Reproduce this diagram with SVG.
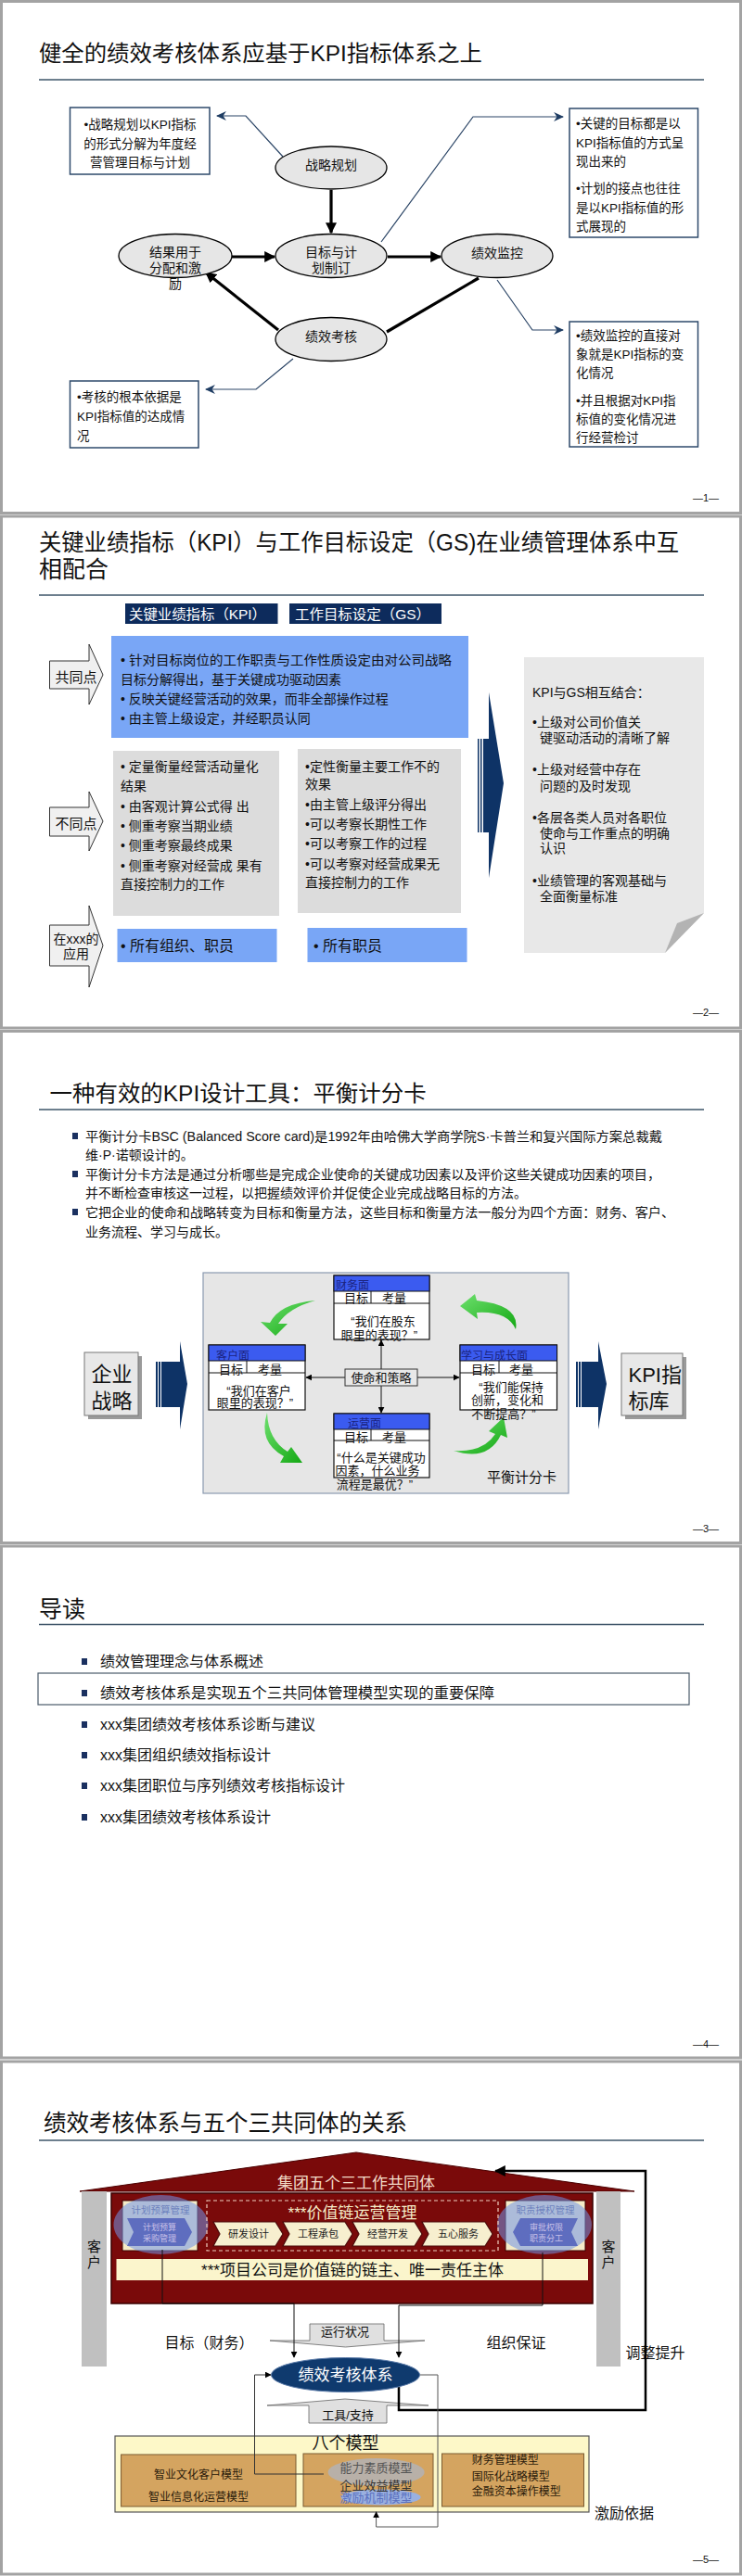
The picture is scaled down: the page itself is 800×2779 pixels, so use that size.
<svg xmlns="http://www.w3.org/2000/svg" width="800" height="2779" viewBox="0 0 800 2779">
<style>
text{font-family:"Liberation Sans","Noto Sans CJK SC",sans-serif;dominant-baseline:central;fill:#111}
.frame{fill:#fff;stroke:#a3a3a3;stroke-width:3}
.rule{stroke:#3d5468;stroke-width:1.5}
.pg{font-size:11px;text-anchor:middle}
.t1{font-size:24px}
.ell{fill:#e6e6e6;stroke:#000;stroke-width:1.3}
.et{font-size:14px;text-anchor:middle}
.thick{stroke:#000;stroke-width:3.2;fill:none}
.nav{stroke:#2b4566;stroke-width:1.2;fill:none}
.cbox{fill:#fff;stroke:#2e4a6b;stroke-width:1.5}
.ct{font-size:13.5px}
.tab{fill:#0d2b5c}
.tabt{font-size:15px;fill:#fff}
.lb{fill:#79a6f6}
.gb{fill:#dcdcdc}
.s14{font-size:14px}
.wa{fill:#f0f0f0;stroke:#333;stroke-width:1}
.navy{fill:#0e3366}
.card{fill:#fff;stroke:#111;stroke-width:1.2}
.hdr{fill:#3b5bf0;stroke:#111;stroke-width:1}
.c13{font-size:13px}
.hd{font-size:12px;fill:#1a237e}
.thin{stroke:#111;stroke-width:1;fill:none}
.grn{fill:url(#gg)}
.sq{fill:#1a3060}
.li{font-size:16px}
.chev{fill:#f7efcf;stroke:#4a0a0a;stroke-width:1.2}
.chT{font-size:11px;text-anchor:middle;fill:#222}
.mdl{fill:#d4a460;stroke:#7a5a30;stroke-width:1}
.m12{font-size:12px;fill:#2a1a0a}
</style>
<defs>
<marker id="ab" viewBox="0 0 10 10" refX="9" refY="5" markerWidth="12" markerHeight="12" markerUnits="userSpaceOnUse" orient="auto"><path d="M0,0 L10,5 L0,10 z" fill="#000"/></marker>
<marker id="an" viewBox="0 0 10 10" refX="9" refY="5" markerWidth="11" markerHeight="11" markerUnits="userSpaceOnUse" orient="auto"><path d="M0,0.5 L10,5 L0,9.5 L3,5 z" fill="#1f3d63"/></marker>
<marker id="as" viewBox="0 0 10 10" refX="9" refY="5" markerWidth="7" markerHeight="7" markerUnits="userSpaceOnUse" orient="auto"><path d="M0,0 L10,5 L0,10 z" fill="#000"/></marker>
<linearGradient id="gg" x1="0" y1="0" x2="1" y2="1"><stop offset="0" stop-color="#6ee06e"/><stop offset="1" stop-color="#14a814"/></linearGradient>
</defs>

<!-- slide frames -->
<g id="frames">
<rect class="frame" x="1.5" y="1.5" width="797" height="552"/>
<rect class="frame" x="1.5" y="557" width="797" height="552"/>
<rect class="frame" x="1.5" y="1112.5" width="797" height="552"/>
<rect class="frame" x="1.5" y="1668" width="797" height="552"/>
<rect class="frame" x="1.5" y="2224" width="797" height="553"/>
</g>

<!-- ================= SLIDE 1 ================= -->
<g id="s1-title">
<text class="t1" x="42" y="57" textLength="478" lengthAdjust="spacingAndGlyphs">健全的绩效考核体系应基于KPI指标体系之上</text>
<line class="rule" x1="42" y1="86" x2="759" y2="86"/>
</g>
<g id="s1-connectors">
<line class="thick" x1="357" y1="205" x2="357" y2="251" marker-end="url(#ab)"/>
<line class="thick" x1="250" y1="277" x2="296" y2="277" marker-end="url(#ab)"/>
<line class="thick" x1="418" y1="277" x2="475" y2="277" marker-end="url(#ab)"/>
<line class="thick" x1="516" y1="300" x2="417" y2="358"/>
<line class="thick" x1="300" y1="356" x2="222" y2="294" marker-end="url(#ab)"/>
<polyline class="nav" points="305,169 265,125 234,125" marker-end="url(#an)"/>
<polyline class="nav" points="411,261 510,126 607,126" marker-end="url(#an)"/>
<polyline class="nav" points="536,302 574,356 607,356" marker-end="url(#an)"/>
<polyline class="nav" points="316,387 276,420 222,420" marker-end="url(#an)"/>
</g>
<g id="n-zhanlue"><ellipse class="ell" cx="357" cy="181" rx="60" ry="23"/><text class="et" x="357" y="178">战略规划</text></g>
<g id="n-mubiao"><ellipse class="ell" cx="357" cy="276" rx="60" ry="23.5"/><text class="et" x="357" y="272">目标与计</text><text class="et" x="357" y="289">划制订</text></g>
<g id="n-jieguo"><ellipse class="ell" cx="189" cy="276" rx="61" ry="23.5"/><text class="et" x="189" y="272">结果用于</text><text class="et" x="189" y="289">分配和激</text><text class="et" x="189" y="306">励</text></g>
<g id="n-jiankong"><ellipse class="ell" cx="536" cy="276" rx="60" ry="23.5"/><text class="et" x="536" y="273">绩效监控</text></g>
<g id="n-kaohe"><ellipse class="ell" cx="357" cy="366" rx="60" ry="23.5"/><text class="et" x="357" y="363">绩效考核</text></g>
<g id="n-boxA"><rect class="cbox" x="75.5" y="116" width="150.5" height="72"/>
<text class="ct" x="151" y="134" text-anchor="middle">•战略规划以KPI指标</text>
<text class="ct" x="151" y="155" text-anchor="middle">的形式分解为年度经</text>
<text class="ct" x="151" y="175" text-anchor="middle">营管理目标与计划</text></g>
<g id="n-boxB"><rect class="cbox" x="614" y="117" width="138.5" height="139"/>
<text class="ct" x="621" y="133">•关键的目标都是以</text>
<text class="ct" x="621" y="154">KPI指标值的方式呈</text>
<text class="ct" x="621" y="174">现出来的</text>
<text class="ct" x="621" y="203">•计划的接点也往往</text>
<text class="ct" x="621" y="224">是以KPI指标值的形</text>
<text class="ct" x="621" y="244">式展现的</text></g>
<g id="n-boxC"><rect class="cbox" x="614" y="347" width="138.5" height="135"/>
<text class="ct" x="621" y="362">•绩效监控的直接对</text>
<text class="ct" x="621" y="382">象就是KPI指标的变</text>
<text class="ct" x="621" y="402">化情况</text>
<text class="ct" x="621" y="432">•并且根据对KPI指</text>
<text class="ct" x="621" y="452">标值的变化情况进</text>
<text class="ct" x="621" y="472">行经营检讨</text></g>
<g id="n-boxD"><rect class="cbox" x="75.5" y="411" width="138.5" height="72"/>
<text class="ct" x="83" y="428">•考核的根本依据是</text>
<text class="ct" x="83" y="449">KPI指标值的达成情</text>
<text class="ct" x="83" y="470">况</text></g>
<text class="pg" x="761" y="537">—1—</text>

<!-- ================= SLIDE 2 ================= -->
<g id="s2-title">
<text class="t1" x="42" y="585" style="font-size:25px" textLength="690" lengthAdjust="spacingAndGlyphs">关键业绩指标（KPI）与工作目标设定（GS)在业绩管理体系中互</text>
<text class="t1" x="42" y="614" style="font-size:25px">相配合</text>
<line class="rule" x1="42" y1="642" x2="759" y2="642"/>
</g>
<g id="s2-tabs">
<rect class="tab" x="135" y="651" width="164.5" height="22"/><text class="tabt" x="139" y="662" textLength="148" lengthAdjust="spacingAndGlyphs">关键业绩指标（KPI）</text>
<rect class="tab" x="312" y="651" width="164" height="22"/><text class="tabt" x="318" y="662" textLength="146" lengthAdjust="spacingAndGlyphs">工作目标设定（GS）</text>
</g>
<g id="s2-arrows">
<polygon class="wa" points="53.5,713 96,713 96,695 111,728 96,760 96,743 53.5,743"/>
<text x="82" y="730" style="font-size:15px" text-anchor="middle">共同点</text>
<polygon class="wa" points="53.5,871 96,871 96,854 111,886 96,918 96,902 53.5,902"/>
<text x="82" y="888" style="font-size:15px" text-anchor="middle">不同点</text>
<polygon class="wa" points="53.5,998 96,998 96,977 111,1020 96,1065 96,1042 53.5,1042"/>
<text x="82" y="1013" style="font-size:14px" text-anchor="middle">在xxx的</text>
<text x="82" y="1029" style="font-size:14px" text-anchor="middle">应用</text>
</g>
<g id="s2-common">
<rect class="lb" x="120" y="686" width="385" height="110"/>
<text class="s14" x="130" y="712" textLength="357" lengthAdjust="spacingAndGlyphs">•  针对目标岗位的工作职责与工作性质设定由对公司战略</text>
<text class="s14" x="130" y="733">目标分解得出，基于关键成功驱动因素</text>
<text class="s14" x="130" y="754">•  反映关键经营活动的效果，而非全部操作过程</text>
<text class="s14" x="130" y="775">•  由主管上级设定，并经职员认同</text>
</g>
<g id="s2-diff-kpi">
<rect class="gb" x="122" y="810" width="179" height="178"/>
<text class="s14" x="130" y="827">•  定量衡量经营活动量化</text>
<text class="s14" x="130" y="848">结果</text>
<text class="s14" x="130" y="870">•  由客观计算公式得 出</text>
<text class="s14" x="130" y="891">•  侧重考察当期业绩</text>
<text class="s14" x="130" y="912">•  侧重考察最终成果</text>
<text class="s14" x="130" y="934">•  侧重考察对经营成 果有</text>
<text class="s14" x="130" y="954">直接控制力的工作</text>
</g>
<g id="s2-diff-gs">
<rect class="gb" x="321" y="808" width="176" height="177"/>
<text class="s14" x="329" y="827">•定性衡量主要工作不的</text>
<text class="s14" x="329" y="846">效果</text>
<text class="s14" x="329" y="868">•由主管上级评分得出</text>
<text class="s14" x="329" y="889">•可以考察长期性工作</text>
<text class="s14" x="329" y="910">•可以考察工作的过程</text>
<text class="s14" x="329" y="932">•可以考察对经营成果无</text>
<text class="s14" x="329" y="952">直接控制力的工作</text>
</g>
<g id="s2-apply">
<rect class="lb" x="126.5" y="1002" width="172" height="36"/><text x="130" y="1020" style="font-size:16px">•  所有组织、职员</text>
<rect class="lb" x="331.5" y="1001" width="172" height="37"/><text x="338" y="1020" style="font-size:16px">•  所有职员</text>
</g>
<g id="s2-bigarrow">
<rect class="navy" x="515" y="797" width="1.5" height="101"/>
<rect class="navy" x="518" y="797" width="1.5" height="101"/>
<rect class="navy" x="521" y="797" width="7" height="101"/>
<polygon class="navy" points="527,747 543,845 527,947"/>
</g>
<g id="s2-panel">
<polygon points="565,709 759,709 759,985 717,1028 565,1028" fill="#e8e8e8"/>
<polygon points="759,985 717,1028 730,996" fill="#b3b3b3"/>
<text class="s14" x="574" y="747">KPI与GS相互结合：</text>
<text class="s14" x="574" y="779">•上级对公司价值关</text>
<text class="s14" x="582" y="796">键驱动活动的清晰了解</text>
<text class="s14" x="574" y="830">•上级对经营中存在</text>
<text class="s14" x="582" y="848">问题的及时发现</text>
<text class="s14" x="574" y="882">•各层各类人员对各职位</text>
<text class="s14" x="582" y="899">使命与工作重点的明确</text>
<text class="s14" x="582" y="915">认识</text>
<text class="s14" x="574" y="950">•业绩管理的客观基础与</text>
<text class="s14" x="582" y="967">全面衡量标准</text>
</g>
<text class="pg" x="761" y="1092">—2—</text>

<!-- ================= SLIDE 3 ================= -->
<g id="s3-title">
<text class="t1" x="53.6" y="1179" textLength="406" lengthAdjust="spacingAndGlyphs">一种有效的KPI设计工具：平衡计分卡</text>
<line class="rule" x1="42" y1="1197" x2="759" y2="1197"/>
</g>
<g id="s3-bullets">
<rect class="sq" x="78" y="1222" width="6" height="7"/>
<text class="s14" x="92" y="1226" textLength="622" lengthAdjust="spacingAndGlyphs">平衡计分卡BSC (Balanced Score card)是1992年由哈佛大学商学院S·卡普兰和复兴国际方案总裁戴</text>
<text class="s14" x="92" y="1246">维·P·诺顿设计的。</text>
<rect class="sq" x="78" y="1263" width="6" height="7"/>
<text class="s14" x="92" y="1267" textLength="620" lengthAdjust="spacingAndGlyphs">平衡计分卡方法是通过分析哪些是完成企业使命的关键成功因素以及评价这些关键成功因素的项目，</text>
<text class="s14" x="92" y="1287">并不断检查审核这一过程，以把握绩效评价并促使企业完成战略目标的方法。</text>
<rect class="sq" x="78" y="1304" width="6" height="7"/>
<text class="s14" x="92" y="1308" textLength="635" lengthAdjust="spacingAndGlyphs">它把企业的使命和战略转变为目标和衡量方法，这些目标和衡量方法一般分为四个方面：财务、客户、</text>
<text class="s14" x="92" y="1329">业务流程、学习与成长。</text>
</g>
<g id="s3-strategy">
<rect x="95" y="1463" width="58" height="68" fill="#9a9a9a"/>
<rect x="91" y="1459" width="58" height="68" fill="#e8e8e8" stroke="#777" stroke-width="1"/>
<text x="98.5" y="1482" style="font-size:22px">企业</text>
<text x="98.5" y="1511" style="font-size:22px">战略</text>
</g>
<g id="s3-arrowL">
<rect class="navy" x="168" y="1469" width="2" height="49"/>
<rect class="navy" x="171" y="1469" width="2" height="49"/>
<rect class="navy" x="174" y="1469" width="20" height="49"/>
<polygon class="navy" points="194,1447 202,1493 194,1542"/>
</g>
<g id="s3-panel">
<rect x="219" y="1373" width="394" height="238" fill="#e6e6e6" stroke="#8a9ab0" stroke-width="1.2"/>
<text x="525" y="1593" style="font-size:15px">平衡计分卡</text>
</g>
<g id="s3-green">
<path class="grn" d="M340,1403 Q302,1406 291,1427 L281,1426 L297,1441 L310,1428 L300,1428 Q311,1411 340,1403 Z"/>
<path class="grn" d="M556,1434 Q561,1408 514,1403 L512,1396 L496,1409 L515,1423 L514,1416 Q547,1414 556,1434 Z"/>
<path class="grn" d="M288,1524 Q278,1556 306,1571 L302,1578 L326,1578 L314,1561 L310,1566 Q289,1553 288,1524 Z"/>
<path class="grn" d="M489,1565 Q521,1567 534,1547 L527,1544 L543,1529 L547,1551 L540,1548 Q526,1577 489,1565 Z"/>
</g>
<g id="s3-connectors">
<line class="thin" x1="411" y1="1477" x2="411" y2="1446" marker-end="url(#as)"/>
<line class="thin" x1="411" y1="1495" x2="411" y2="1524" marker-end="url(#as)"/>
<line class="thin" x1="372" y1="1486" x2="330" y2="1486" marker-end="url(#as)"/>
<line class="thin" x1="450" y1="1486" x2="495" y2="1486" marker-end="url(#as)"/>
</g>
<g id="s3-mission"><rect x="372" y="1477" width="78" height="18" fill="#e8e8e8" stroke="#333" stroke-width="1"/><text class="c13" x="411" y="1486" text-anchor="middle">使命和策略</text></g>
<g id="s3-finance">
<rect class="card" x="360" y="1376" width="103" height="69"/>
<rect class="hdr" x="360" y="1376" width="103" height="17"/>
<text class="hd" x="362" y="1387">财务面</text>
<line class="thin" x1="360" y1="1406" x2="463" y2="1406"/><line class="thin" x1="400" y1="1393" x2="400" y2="1406"/>
<text class="c13" x="371" y="1400">目标</text><text class="c13" x="412" y="1400">考量</text>
<text class="c13" x="413" y="1425" text-anchor="middle">“我们在股东</text>
<text class="c13" x="409" y="1440" text-anchor="middle">眼里的表现？”</text>
</g>
<g id="s3-customer">
<rect class="card" x="225" y="1451" width="104" height="70"/>
<rect class="hdr" x="225" y="1451" width="104" height="17"/>
<text class="hd" x="233" y="1463">客户面</text>
<line class="thin" x1="225" y1="1481" x2="329" y2="1481"/><line class="thin" x1="266" y1="1468" x2="266" y2="1481"/>
<text class="c13" x="236" y="1477">目标</text><text class="c13" x="278" y="1477">考量</text>
<text class="c13" x="279" y="1500" text-anchor="middle">“我们在客户</text>
<text class="c13" x="275" y="1513" text-anchor="middle">眼里的表现？”</text>
</g>
<g id="s3-learning">
<rect class="card" x="496" y="1451" width="104.5" height="70"/>
<rect class="hdr" x="496" y="1451" width="104.5" height="17"/>
<text class="hd" x="497" y="1463">学习与成长面</text>
<line class="thin" x1="496" y1="1481" x2="600.5" y2="1481"/><line class="thin" x1="538" y1="1468" x2="538" y2="1481"/>
<text class="c13" x="508" y="1477">目标</text><text class="c13" x="549" y="1477">考量</text>
<text class="c13" x="551" y="1496" text-anchor="middle">“我们能保持</text>
<text class="c13" x="547" y="1510" text-anchor="middle">创新，变化和</text>
<text class="c13" x="543" y="1525" text-anchor="middle">不断提高？”</text>
</g>
<g id="s3-operation">
<rect class="card" x="360" y="1525" width="103" height="69"/>
<rect class="hdr" x="360" y="1525" width="103" height="17"/>
<text class="hd" x="375" y="1536">运营面</text>
<line class="thin" x1="360" y1="1554" x2="463" y2="1554"/><line class="thin" x1="400" y1="1542" x2="400" y2="1554"/>
<text class="c13" x="371" y="1550">目标</text><text class="c13" x="412" y="1550">考量</text>
<text class="c13" x="411" y="1572" text-anchor="middle">“什么是关键成功</text>
<text class="c13" x="407" y="1586" text-anchor="middle">因素，什么业务</text>
<text class="c13" x="404" y="1601" text-anchor="middle">流程是最优？”</text>
</g>
<g id="s3-arrowR">
<rect class="navy" x="621" y="1469" width="2" height="49"/>
<rect class="navy" x="624" y="1469" width="2" height="49"/>
<rect class="navy" x="627" y="1469" width="18" height="49"/>
<polygon class="navy" points="645,1447 654,1493 645,1542"/>
</g>
<g id="s3-kpilib">
<rect x="674" y="1464" width="66" height="67" fill="#9a9a9a"/>
<rect x="670" y="1460" width="66" height="67" fill="#e8e8e8" stroke="#777" stroke-width="1"/>
<text x="677.5" y="1483" style="font-size:22px">KPI指</text>
<text x="677.5" y="1511" style="font-size:22px">标库</text>
</g>
<text class="pg" x="761" y="1649">—3—</text>

<!-- ================= SLIDE 4 ================= -->
<g id="s4-title">
<text class="t1" x="42" y="1736" style="font-size:25px">导读</text>
<line class="rule" x1="42" y1="1752.5" x2="759" y2="1752.5"/>
</g>
<g id="s4-list">
<rect x="41" y="1805" width="702" height="34" fill="none" stroke="#4a5a6a" stroke-width="1.2"/>
<rect class="sq" x="88" y="1789" width="6" height="7"/><text class="li" x="108" y="1792">绩效管理理念与体系概述</text>
<rect class="sq" x="88" y="1823" width="6" height="7"/><text class="li" x="108" y="1826" textLength="425" lengthAdjust="spacingAndGlyphs">绩效考核体系是实现五个三共同体管理模型实现的重要保障</text>
<rect class="sq" x="88" y="1857" width="6" height="7"/><text class="li" x="108" y="1860">xxx集团绩效考核体系诊断与建议</text>
<rect class="sq" x="88" y="1890" width="6" height="7"/><text class="li" x="108" y="1893">xxx集团组织绩效指标设计</text>
<rect class="sq" x="88" y="1923" width="6" height="7"/><text class="li" x="108" y="1926">xxx集团职位与序列绩效考核指标设计</text>
<rect class="sq" x="88" y="1957" width="6" height="7"/><text class="li" x="108" y="1960">xxx集团绩效考核体系设计</text>
</g>
<text class="pg" x="761" y="2205">—4—</text>

<!-- ================= SLIDE 5 ================= -->
<g id="s5-title">
<text class="t1" x="47" y="2290" style="font-size:25px" textLength="392" lengthAdjust="spacingAndGlyphs">绩效考核体系与五个三共同体的关系</text>
<line class="rule" x1="42" y1="2309" x2="759" y2="2309"/>
</g>
<g id="s5-house">
<polygon points="384,2322 86,2364 684,2364" fill="#7a0a0a" stroke="#4a0000" stroke-width="1"/>
<text x="384" y="2355" text-anchor="middle" style="font-size:17px;fill:#f3dcc8">集团五个三工作共同体</text>
<rect x="88" y="2364" width="27" height="189" fill="#c0c0c0"/>
<rect x="643" y="2364" width="26" height="189" fill="#c0c0c0"/>
<text x="101.5" y="2423" text-anchor="middle" style="font-size:15px">客</text>
<text x="101.5" y="2440" text-anchor="middle" style="font-size:15px">户</text>
<text x="656" y="2423" text-anchor="middle" style="font-size:15px">客</text>
<text x="656" y="2440" text-anchor="middle" style="font-size:15px">户</text>
<rect x="120" y="2366" width="519" height="119" fill="#7a0a0a" stroke="#3a0000" stroke-width="1.5"/>
</g>
<g id="s5-plan">
<rect x="132" y="2374" width="81" height="54" fill="#f5ecc8" stroke="#3a0000" stroke-width="1"/>
<text x="173" y="2384" text-anchor="middle" style="font-size:10.5px;fill:#6a6a8a">计划预算管理</text>
<polygon points="137,2393 199,2393 207,2408 199,2423 137,2423 144,2408" fill="#4b3f8f"/>
<ellipse cx="173.5" cy="2400" rx="51" ry="32" fill="#6f94e8" fill-opacity="0.55"/>
<text x="172" y="2403" text-anchor="middle" style="font-size:9px;fill:#c8c0e8">计划预算</text>
<text x="172" y="2415" text-anchor="middle" style="font-size:9px;fill:#c8c0e8">采购管理</text>
</g>
<g id="s5-duty">
<rect x="545" y="2374" width="86" height="54" fill="#f5ecc8" stroke="#3a0000" stroke-width="1"/>
<text x="588" y="2384" text-anchor="middle" style="font-size:10.5px;fill:#6a6a8a">职责授权管理</text>
<polygon points="561,2393 623,2393 616,2408 623,2423 561,2423 553,2408" fill="#4b3f8f"/>
<ellipse cx="587" cy="2400" rx="51" ry="32" fill="#6f94e8" fill-opacity="0.55"/>
<text x="589" y="2403" text-anchor="middle" style="font-size:9px;fill:#c8c0e8">审批权限</text>
<text x="589" y="2415" text-anchor="middle" style="font-size:9px;fill:#c8c0e8">职责分工</text>
</g>
<g id="s5-valuechain">
<rect x="223" y="2374" width="314" height="54" fill="none" stroke="#f0d0c0" stroke-width="1.2" stroke-dasharray="4,3"/>
<text x="380" y="2387" text-anchor="middle" style="font-size:17px;fill:#f5ecc8">***价值链运营管理</text>
<polygon class="chev" points="230,2397 297,2397 305,2410 297,2423 230,2423 237,2410"/>
<text class="chT" x="268" y="2410">研发设计</text>
<polygon class="chev" points="305,2397 372,2397 380,2410 372,2423 305,2423 312,2410"/>
<text class="chT" x="343" y="2410">工程承包</text>
<polygon class="chev" points="380,2397 447,2397 455,2410 447,2423 380,2423 387,2410"/>
<text class="chT" x="418" y="2410">经营开发</text>
<polygon class="chev" points="455,2397 523,2397 531,2410 523,2423 455,2423 462,2410"/>
<text class="chT" x="494" y="2410">五心服务</text>
</g>
<g id="s5-bar">
<rect x="125.5" y="2437" width="508.5" height="23" fill="#fbf5cc"/>
<text x="380" y="2449" text-anchor="middle" style="font-size:17px">***项目公司是价值链的链主、唯一责任主体</text>
</g>
<g id="s5-labels">
<text x="177.5" y="2527" style="font-size:16px">目标（财务）</text>
<text x="524.5" y="2527" style="font-size:16px">组织保证</text>
<text x="674.5" y="2538" style="font-size:16px">调整提升</text>
<text x="641" y="2711" style="font-size:16px">激励依据</text>
</g>
<g id="s5-run">
<polygon points="334,2507 414,2507 414,2525 458,2525 372.5,2532 291,2525 334,2525" fill="#e0e0e0" stroke="#666" stroke-width="0.8"/>
<text x="372" y="2515" text-anchor="middle" style="font-size:13px">运行状况</text>
</g>
<g id="s5-tool">
<polygon points="372,2588 462,2595 417,2595 417,2614 333,2614 333,2595 288,2595" fill="#e0e0e0" stroke="#666" stroke-width="0.8"/>
<text x="375" y="2605" text-anchor="middle" style="font-size:13px">工具/支持</text>
</g>
<g id="s5-eight">
<rect x="124" y="2628" width="511" height="82" fill="#fdf8c8" stroke="#555" stroke-width="1.2"/>
<text x="372.5" y="2636" text-anchor="middle" style="font-size:18px">八个模型</text>
<rect class="mdl" x="130.6" y="2648" width="188.4" height="56"/>
<text class="m12" x="214" y="2670" text-anchor="middle">智业文化客户模型</text>
<text class="m12" x="214" y="2694" text-anchor="middle">智业信息化运营模型</text>
<rect class="mdl" x="327" y="2647" width="140" height="57"/>
<ellipse cx="405.6" cy="2667" rx="52" ry="15" fill="#b8b0a8"/>
<ellipse cx="410.7" cy="2694" rx="43" ry="8.5" fill="#9ab0e0"/>
<text x="405.6" y="2662" text-anchor="middle" style="font-size:13px;fill:#555">能力素质模型</text>
<text x="405.6" y="2681" text-anchor="middle" style="font-size:13px;fill:#333">企业效益模型</text>
<text x="405.6" y="2694" text-anchor="middle" style="font-size:13px;fill:#5a70c0">激励机制模型</text>
<rect class="mdl" x="476.5" y="2647" width="153" height="57"/>
<text class="m12" x="508.7" y="2654">财务管理模型</text>
<text class="m12" x="508.7" y="2672">国际化战略模型</text>
<text class="m12" x="508.7" y="2688">金融资本操作模型</text>
</g>
<g id="s5-connectors">
<path class="thin" d="M175,2427 V2485 H317 V2543" marker-end="url(#as)"/>
<path class="thin" d="M585,2430 V2487 H430 V2543" marker-end="url(#as)"/>
<path d="M430,2575 V2600 H696 V2342 H534" fill="none" stroke="#000" stroke-width="2.5" marker-end="url(#ab)"/>
<path d="M452,2562 H472 V2726 H405.6 V2710" fill="none" stroke="#555" stroke-width="1" marker-end="url(#as)"/>
<path d="M349,2669 H274.5 V2562 H292" fill="none" stroke="#333" stroke-width="1" marker-end="url(#as)"/>
</g>
<g id="s5-perf">
<ellipse cx="372.5" cy="2562" rx="80" ry="18.5" fill="#0f3a6e" stroke="#5a7aa8" stroke-width="1"/>
<text x="372.5" y="2562" text-anchor="middle" style="font-size:17px;fill:#fff">绩效考核体系</text>
</g>
<text class="pg" x="761" y="2761">—5—</text>
</svg>
